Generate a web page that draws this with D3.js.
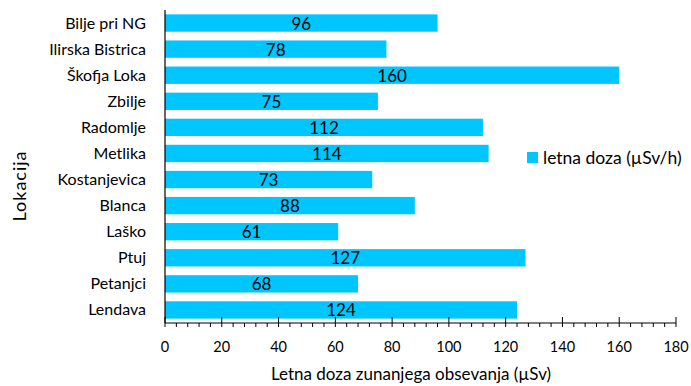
<!DOCTYPE html>
<html>
<head>
<meta charset="utf-8">
<script src="https://cdn.jsdelivr.net/npm/d3@7"></script>
<style>
  html, body { margin: 0; padding: 0; background: #fff; }
  svg { display: block; font-family: Lato, "Open Sans", sans-serif; }
</style>
</head>
<body>
<svg id="chart" width="691" height="386"></svg>
<script>
// Annual external dose by location
const locations = ["Bilje pri NG", "Ilirska Bistrica", "Škofja Loka", "Zbilje", "Radomlje", "Metlika",
                   "Kostanjevica", "Blanca", "Laško", "Ptuj", "Petanjci", "Lendava"];
const doses = [96, 78, 160, 75, 112, 114, 73, 88, 61, 127, 68, 124];
const xTicks = [0, 20, 40, 60, 80, 100, 120, 140, 160, 180];
const seriesName = "letna doza (µSv/h)";
const xTitle = "Letna doza zunanjega obsevanja (µSv)";
const yTitle = "Lokacija";

const svg = d3.select("#chart");
const plotLeft = 165, plotRight = 676, plotTop = 10, plotBottom = 323;
const barColor = "#00c6ff";

const x = d3.scaleLinear().domain([0, 180]).range([plotLeft, plotRight]);
const y = d3.scaleBand().domain(locations).range([plotTop, plotBottom])
  .paddingInner(0.335).paddingOuter(0.1675);

// bars
svg.append("g").selectAll("rect")
  .data(locations)
  .join("rect")
  .attr("x", x(0))
  .attr("y", d => y(d))
  .attr("width", (d, i) => x(doses[i]) - x(0))
  .attr("height", y.bandwidth())
  .attr("fill", barColor);

// value labels, centred in each bar
svg.append("g").selectAll("text")
  .data(locations)
  .join("text")
  .attr("x", (d, i) => (x(0) + x(doses[i])) / 2)
  .attr("y", d => y(d) + y.bandwidth() / 2 + 6.5)
  .attr("text-anchor", "middle")
  .attr("font-size", 17)
  .attr("fill", "#000")
  .text((d, i) => doses[i]);

// category labels
svg.append("g").selectAll("text")
  .data(locations)
  .join("text")
  .attr("x", 146)
  .attr("y", d => y(d) + y.bandwidth() / 2 + 5.5)
  .attr("text-anchor", "end")
  .attr("font-size", 16)
  .attr("fill", "#000")
  .text(d => d);

// y axis line
svg.append("line")
  .attr("x1", plotLeft).attr("x2", plotLeft)
  .attr("y1", plotTop).attr("y2", plotBottom)
  .attr("stroke", "#000").attr("stroke-width", 1.2);

// x axis: major ticks cross the line, minor ticks hang below it
const xAxis = svg.append("g");
xAxis.append("line")
  .attr("x1", plotLeft).attr("x2", plotRight)
  .attr("y1", plotBottom).attr("y2", plotBottom)
  .attr("stroke", "#000").attr("stroke-width", 1.2);
const minor = d3.range(0, 181, 4).filter(v => v % 20 !== 0);
xAxis.selectAll("line.minor")
  .data(minor)
  .join("line")
  .attr("class", "minor")
  .attr("x1", d => x(d)).attr("x2", d => x(d))
  .attr("y1", plotBottom).attr("y2", plotBottom + 4)
  .attr("stroke", "#000");
xAxis.selectAll("line.major")
  .data(xTicks)
  .join("line")
  .attr("class", "major")
  .attr("x1", d => x(d)).attr("x2", d => x(d))
  .attr("y1", plotBottom - 6).attr("y2", plotBottom + 4)
  .attr("stroke", "#000");
xAxis.selectAll("text")
  .data(xTicks)
  .join("text")
  .attr("x", d => x(d))
  .attr("y", 352)
  .attr("text-anchor", "middle")
  .attr("font-size", 14.5)
  .attr("fill", "#000")
  .text(d => d);

// axis titles
svg.append("text")
  .attr("x", 411).attr("y", 380)
  .attr("text-anchor", "middle")
  .attr("font-size", 17)
  .attr("fill", "#000")
  .text(xTitle);
svg.append("text")
  .attr("transform", "translate(26,186) rotate(-90)")
  .attr("text-anchor", "middle")
  .attr("font-size", 18)
  .attr("letter-spacing", 1)
  .attr("fill", "#000")
  .text(yTitle);

// legend
const legend = svg.append("g");
legend.append("rect")
  .attr("x", 527).attr("y", 152)
  .attr("width", 11).attr("height", 11)
  .attr("fill", barColor);
legend.append("text")
  .attr("x", 543).attr("y", 163.5)
  .attr("font-size", 17.5)
  .attr("fill", "#000")
  .text(seriesName);
</script>
</body>
</html>
